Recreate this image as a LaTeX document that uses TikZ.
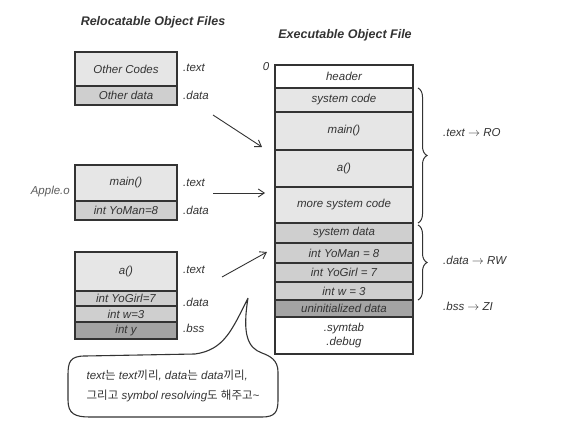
\documentclass[tikz,border=0pt]{standalone}
\usepackage{fontspec}
\setmainfont{Liberation Sans}
\newfontfamily\krfont{Noto Sans CJK KR}
\usetikzlibrary{arrows.meta,decorations.pathreplacing}
\definecolor{ink}{HTML}{333333}
\definecolor{lite}{HTML}{E6E6E6}
\definecolor{mid}{HTML}{CFCFCF}
\definecolor{dark}{HTML}{A4A4A4}
\newcommand{\kr}[1]{{\krfont\upshape #1}}
\tikzset{
  sec/.style={draw=ink, line width=1.1pt, inner sep=0pt, font=\itshape\fontsize{11.5}{13}\selectfont, text=ink, align=center},
  lsec/.style={sec, minimum width=102pt},
  esec/.style={sec, minimum width=138pt},
  lab/.style={anchor=west, font=\itshape\fontsize{11.5}{13}\selectfont, text=ink, inner sep=0pt},
  ttl/.style={font=\itshape\bfseries\fontsize{12.5}{14}\selectfont, text=ink},
  arr/.style={draw=ink, line width=0.9pt, -{Straight Barb[length=6pt,width=8pt]}},
  brc/.style={draw=ink, line width=1pt, decorate, decoration={brace, amplitude=9pt}}
}
\begin{document}
\begin{tikzpicture}[x=1pt,y=-1pt]
\useasboundingbox (0,0) rectangle (569,446);
% titles
\node[ttl] (t1) at (153,22) {Relocatable Object Files};
\node[ttl] (t2) at (345,35) {Executable Object File};
% left object files
\node[lsec, fill=lite, minimum height=34pt] (oc) at (126,69) {Other Codes};
\node[lsec, fill=mid, minimum height=19pt] (od) at (126,95.5) {Other data};
\node[lsec, fill=lite, minimum height=36pt] (mn) at (126,183) {main()};
\node[lsec, fill=mid, minimum height=19pt] (ym) at (126,210.5) {int YoMan=8};
\node[lsec, fill=lite, minimum height=39pt] (fa) at (126,271.5) {a()};
\node[lsec, fill=mid, minimum height=15pt] (yg) at (126,298.5) {int YoGirl=7};
\node[lsec, fill=mid, minimum height=16pt] (iw) at (126,314) {int w=3};
\node[lsec, fill=dark, minimum height=17pt] (iy) at (126,330.5) {int y};
\node[lab] (l1) at (183,68) {.text};
\node[lab] (l2) at (183,95) {.data};
\node[lab] (l3) at (183,183) {.text};
\node[lab] (l4) at (183,210) {.data};
\node[lab] (l5) at (183,270) {.text};
\node[lab] (l6) at (183,302) {.data};
\node[lab] (l7) at (183,328) {.bss};
\node[lab, anchor=east, text=ink!80] (apple) at (70,192) {Apple.o};
% executable
\node[lab, anchor=center] (zero) at (266,67) {0};
\node[esec, fill=white, minimum height=23pt] (hdr) at (344,76.5) {header};
\node[esec, fill=lite, minimum height=24pt] (sc) at (344,100) {system code};
\node[esec, fill=lite, minimum height=38pt] (em) at (344,131) {main()};
\node[esec, fill=lite, minimum height=37pt] (ea) at (344,168.5) {a()};
\node[esec, fill=lite, minimum height=36pt] (msc) at (344,205) {more system code};
\node[esec, fill=mid, minimum height=20pt] (sd) at (344,233) {system data};
\node[esec, fill=mid, minimum height=20pt] (eym) at (344,253) {int YoMan = 8};
\node[esec, fill=mid, minimum height=19pt] (eyg) at (344,272.5) {int YoGirl = 7};
\node[esec, fill=mid, minimum height=18pt] (ew) at (344,291) {int w = 3};
\node[esec, fill=dark, minimum height=17pt] (ud) at (344,308.5) {uninitialized data};
\node[esec, fill=white, minimum height=37pt, font=\itshape\fontsize{11.5}{14}\selectfont] (sym) at (344,335.5) {.symtab\\.debug};
% braces
\coordinate (b1a) at (418,88);
\coordinate (b1b) at (418,223);
\coordinate (b2a) at (418,225);
\coordinate (b2b) at (418,300);
\draw[brc] (b1a) -- (b1b);
\draw[brc] (b2a) -- (b2b);
\node[lab] (ro) at (443,133) {.text $\rightarrow$ RO};
\node[lab] (rw) at (443,260) {.data $\rightarrow$ RW};
\node[lab] (zi) at (443,306) {.bss $\rightarrow$ ZI};
% arrows
\coordinate (a1s) at (213,115);
\coordinate (a1e) at (262,147);
\coordinate (a2s) at (213,193);
\coordinate (a2e) at (265,193);
\coordinate (a3s) at (222,277);
\coordinate (a3e) at (267,252);
\draw[arr] (a1s) -- (a1e);
\draw[arr] (a2s) -- (a2e);
\draw[arr] (a3s) -- (a3e);
% speech bubble
\coordinate (tip) at (248,298);
\draw[ink, line width=1.1pt, line join=round] (tip) .. controls (232,330) and (224,350) .. (195,354) -- (85,356) .. controls (70,356) and (68,362) .. (68,375) -- (68,400) .. controls (68,414) and (75,417) .. (90,417) -- (262,417) .. controls (275,417) and (278,412) .. (278,400) -- (278,372) .. controls (278,360) and (270,356) .. (262,353) .. controls (248,348) and (242,335) .. (tip);
\node[font=\itshape\fontsize{11.5}{20}\selectfont, text=ink, align=left] (bub) at (173,386) {text\kr{는} text\kr{끼리}, data\kr{는} data\kr{끼리},\\\kr{그리고} symbol resolving\kr{도} \kr{해주고}\textasciitilde};
\end{tikzpicture}
\end{document}
